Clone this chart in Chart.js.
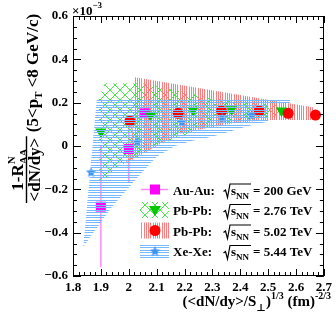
<!DOCTYPE html>
<html>
<head>
<meta charset="utf-8">
<script src="https://cdn.jsdelivr.net/npm/chart.js@4/dist/chart.umd.min.js"></script>
<style>
  html, body { margin: 0; padding: 0; background: #fff; }
  #wrap { position: relative; width: 336px; height: 325px; }
</style>
</head>
<body>
<div id="wrap"><canvas id="c" width="336" height="325"></canvas></div>
<script>
// --- data (y in units of 1e-3) ---
const auX = [1.90, 2.00, 2.058];
const auY = [-0.28, -0.014, 0.151];
const auErr = [0.28, 0.157, 0.03];

const pb276X = [1.90, 2.078, 2.231, 2.369, 2.548];
const pb276Y = [0.066, 0.143, 0.166, 0.169, 0.163];

const pb502X = [2.004, 2.177, 2.333, 2.468, 2.572, 2.67];
const pb502Y = [0.115, 0.151, 0.162, 0.162, 0.151, 0.143];

const xeX = [1.865, 2.03, 2.19, 2.335, 2.44];
const xeY = [-0.12, 0.022, 0.112, 0.13, 0.143];

// systematic bands (outline vertices)
const xeBandX = [1.837, 1.885, 2.578, 2.578, 2.50, 2.50, 2.452, 2.401, 2.348, 2.297, 2.273, 2.22, 2.166, 2.10, 2.046, 1.94, 1.879];
const xeBandY = [-0.465, 0.212, 0.212, 0.195, 0.19, 0.112, 0.10, 0.082, 0.061, 0.043, 0.036, 0.022, 0.0, -0.05, -0.125, -0.28, -0.39];

const pb502BandX = [2.022, 2.665, 2.665, 2.494, 2.375, 2.244, 2.18, 2.10, 1.99, 2.012];
const pb502BandY = [0.317, 0.178, 0.12, 0.12, 0.105, 0.074, 0.055, 0.0, -0.08, 0.05];

const pb276BandX = [1.895, 1.893, 1.915, 2.05, 2.30, 2.55, 2.55, 2.30, 2.10, 1.99];
const pb276BandY = [-0.17, 0.22, 0.29, 0.29, 0.22, 0.185, 0.14, 0.10, 0.0, -0.075];

const xTicks = [1.8, 1.9, 2.0, 2.1, 2.2, 2.3, 2.4, 2.5, 2.6, 2.7];
const yTicks = [-0.6, -0.4, -0.2, 0, 0.2, 0.4, 0.6];
const xMinorStep = 0.02;
const yMinorStep = 0.05;

const legendNames = ['Au-Au:', 'Pb-Pb:', 'Pb-Pb:', 'Xe-Xe:'];
const legendEnergies = ['= 200 GeV', '= 2.76 TeV', '= 5.02 TeV', '= 5.44 TeV'];

const FONT = '"Liberation Serif", "Times New Roman", "DejaVu Serif", serif';
const MAGENTA = '#ff00ff', GREEN = '#00c800', RED = '#ff0000', BLUE = '#3b93f0';

// --- hatch patterns ---
function makePattern(kind) {
  const c = document.createElement('canvas');
  const g = c.getContext('2d');
  if (kind === 'h') {
    c.width = 4; c.height = 5;
    g.fillStyle = 'rgb(120,185,255)';
    g.fillRect(0, 0, 4, 1); g.fillRect(0, 2, 4, 1);
  } else if (kind === 'v') {
    c.width = 9; c.height = 4;
    g.fillStyle = 'rgb(255,125,125)';
    [0, 2, 4, 6].forEach(x => g.fillRect(x, 0, 1, 4));
  } else {
    c.width = 10; c.height = 10;
    g.strokeStyle = 'rgb(70,230,70)'; g.lineWidth = 1;
    g.beginPath(); g.moveTo(0, 0); g.lineTo(10, 10); g.moveTo(10, 0); g.lineTo(0, 10); g.stroke();
  }
  return g.createPattern(c, 'repeat');
}
const blueHatch = makePattern('h');
const redHatch = makePattern('v');
const greenHatch = makePattern('x');

function starImage(size, color) {
  const c = document.createElement('canvas');
  c.width = size; c.height = size;
  const g = c.getContext('2d');
  const r1 = size / 2, r2 = size / 4.6, cx = size / 2, cy = size / 2 + 0.5;
  g.fillStyle = color;
  g.beginPath();
  for (let i = 0; i < 10; i++) {
    const r = i % 2 ? r2 : r1;
    const a = -Math.PI / 2 + i * Math.PI / 5;
    g.lineTo(cx + r * Math.cos(a), cy + r * Math.sin(a));
  }
  g.closePath(); g.fill();
  return c;
}
const star = starImage(11, BLUE);

const pts = (xs, ys) => xs.map((x, i) => ({ x, y: ys[i] }));
const fmt = v => {
  const r = Math.round(v * 100) / 100;
  if (r === 0) return '0';
  return (r < 0 ? '\u2212' : '') + String(Math.abs(r));
};

// text runs helper: [text, size, dy, advance]
function runs(ctx, x, y, parts) {
  for (const p of parts) {
    ctx.font = `bold ${p[1]}px ${FONT}`;
    ctx.fillText(p[0], x, y + (p[2] || 0));
    if (p[3] !== false) x += ctx.measureText(p[0]).width;
  }
  return x;
}
function runsWidth(ctx, parts) {
  let w = 0;
  for (const p of parts) {
    ctx.font = `bold ${p[1]}px ${FONT}`;
    if (p[3] !== false) w += ctx.measureText(p[0]).width;
  }
  return w;
}

const errBars = {
  id: 'errBars',
  beforeDatasetsDraw(chart) {
    const { ctx, scales: { x, y } } = chart;
    ctx.save();
    ctx.strokeStyle = '#ff88ff';
    ctx.lineWidth = 1.5;
    auX.forEach((v, i) => {
      const px = x.getPixelForValue(v);
      ctx.beginPath();
      ctx.moveTo(px, y.getPixelForValue(auY[i] + auErr[i]));
      ctx.lineTo(px, y.getPixelForValue(auY[i] - auErr[i]));
      ctx.stroke();
    });
    ctx.restore();
  }
};

const frame = {
  id: 'frame',
  afterDatasetsDraw(chart) {
    const { ctx, chartArea: a, scales: { x, y } } = chart;
    ctx.save();
    ctx.strokeStyle = '#000';
    ctx.lineWidth = 1;
    ctx.beginPath();
    for (let v = x.min; v <= x.max + 1e-9; v += xMinorStep) {
      const px = Math.round(x.getPixelForValue(v)) + 0.5;
      const major = xTicks.some(t => Math.abs(t - v) < 1e-6);
      const len = major ? 7 : 4;
      ctx.moveTo(px, a.bottom); ctx.lineTo(px, a.bottom - len);
      ctx.moveTo(px, a.top); ctx.lineTo(px, a.top + len);
    }
    for (let v = y.min; v <= y.max + 1e-9; v += yMinorStep) {
      const py = Math.round(y.getPixelForValue(v)) + 0.5;
      const major = yTicks.some(t => Math.abs(t - v) < 1e-6);
      const len = major ? 8 : 4;
      ctx.moveTo(a.left, py); ctx.lineTo(a.left + len, py);
      ctx.moveTo(a.right, py); ctx.lineTo(a.right - len, py);
    }
    ctx.stroke();
    ctx.strokeRect(Math.round(a.left) + 0.5, Math.round(a.top) + 0.5,
      Math.round(a.right - a.left) - 1, Math.round(a.bottom - a.top) - 1);
    ctx.restore();
  }
};

const annotations = {
  id: 'annotations',
  afterDraw(chart) {
    const { ctx } = chart;
    ctx.save();
    ctx.fillStyle = '#000';
    ctx.textBaseline = 'alphabetic';
    ctx.textAlign = 'left';

    // x10^-3
    runs(ctx, 72, 15, [['\u00d710', 13], ['\u22123', 9, -7]]);

    // x title
    const xt = [['(<dN/dy>/S', 15], ['\u22a5', 10, 5], [')', 15], ['1/3', 10, -7], [' (fm)', 15], ['-2/3', 10, -7]];
    runs(ctx, 331 - runsWidth(ctx, xt), 306, xt);

    // y title (rotated)
    ctx.save();
    ctx.translate(26.5, 203);
    ctx.rotate(-Math.PI / 2);
    const num = [['1-R', 17], ['N', 11, -8, false], ['AA', 11, 4]];
    const den = [['<dN/dy>', 17]];
    const nw = runsWidth(ctx, num), dw = runsWidth(ctx, den);
    const fw = Math.max(nw, dw) + 3;
    runs(ctx, (fw - nw) / 2, -4, num);
    runs(ctx, (fw - dw) / 2, 13, den);
    ctx.fillRect(0, -0.7, fw, 1.4);
    runs(ctx, fw + 4, 11.5, [['(5<p', 17], ['T', 11, 4], [' <8 GeV/c)', 17]]);
    ctx.restore();

    // legend
    const base = [194.5, 215, 235.5, 256];
    base.forEach((b, i) => {
      const cy = b - 5;
      const bx = 140, bw = 29, cx = 155;
      ctx.save();
      if (i === 0) {
        ctx.strokeStyle = '#ff88ff'; ctx.lineWidth = 1.5;
        ctx.beginPath(); ctx.moveTo(bx + 1, cy); ctx.lineTo(bx + bw - 1, cy); ctx.stroke();
        ctx.fillStyle = MAGENTA; ctx.fillRect(cx - 5, cy - 5, 10, 10);
      } else {
        ctx.fillStyle = [null, greenHatch, redHatch, blueHatch][i];
        ctx.fillRect(bx, cy - 8, bw, 16);
        if (i === 1) {
          ctx.fillStyle = GREEN;
          ctx.beginPath(); ctx.moveTo(cx - 6, cy - 4); ctx.lineTo(cx + 6, cy - 4); ctx.lineTo(cx, cy + 6); ctx.closePath(); ctx.fill();
        } else if (i === 2) {
          ctx.fillStyle = RED;
          ctx.beginPath(); ctx.arc(cx, cy, 5.5, 0, Math.PI * 2); ctx.fill();
        } else {
          ctx.drawImage(star, cx - 5.5, cy - 5.5);
        }
      }
      ctx.restore();
      ctx.fillStyle = '#000';
      runs(ctx, 173, b, [[legendNames[i], 13]]);
      // sqrt sign
      const x0 = 224;
      ctx.strokeStyle = '#000'; ctx.lineWidth = 1.2;
      ctx.beginPath();
      ctx.moveTo(x0 - 0.5, b - 3); ctx.lineTo(x0 + 1.5, b - 4.5); ctx.lineTo(x0 + 3.5, b + 3);
      ctx.lineTo(x0 + 6, b - 10.5); ctx.lineTo(x0 + 27, b - 10.5);
      ctx.stroke();
      runs(ctx, x0 + 7, b, [['s', 13], ['NN', 9, 4]]);
      runs(ctx, 253, b, [[legendEnergies[i], 13]]);
    });
    ctx.restore();
  }
};

const tickFont = { family: FONT, size: 13, weight: 'bold' };

new Chart(document.getElementById('c'), {
  type: 'scatter',
  data: {
    datasets: [
      { label: 'Xe-Xe band', data: pts(xeBandX, xeBandY), showLine: true, fill: 'shape',
        backgroundColor: blueHatch, borderWidth: 0, pointRadius: 0, order: 1 },
      { label: 'Xe-Xe', data: pts(xeX, xeY), pointStyle: star, order: 2 },
      { label: 'Pb-Pb 5.02', data: pts(pb502X, pb502Y), pointStyle: 'circle', pointRadius: 5.5,
        backgroundColor: RED, borderColor: RED, borderWidth: 0, order: 3 },
      { label: 'Pb-Pb 2.76', data: pts(pb276X, pb276Y), pointStyle: 'triangle', rotation: 180, pointRadius: 6.5,
        backgroundColor: GREEN, borderColor: GREEN, borderWidth: 0, order: 4 },
      { label: 'Au-Au', data: pts(auX, auY), pointStyle: 'rect', pointRadius: 7,
        backgroundColor: MAGENTA, borderColor: MAGENTA, borderWidth: 0, order: 5 },
      { label: 'Pb-Pb 5.02 band', data: pts(pb502BandX, pb502BandY), showLine: true, fill: 'shape',
        backgroundColor: redHatch, borderWidth: 0, pointRadius: 0, order: 6 },
      { label: 'Pb-Pb 2.76 band', data: pts(pb276BandX, pb276BandY), showLine: true, fill: 'shape',
        backgroundColor: greenHatch, borderWidth: 0, pointRadius: 0, order: 7 }
    ]
  },
  options: {
    responsive: false,
    animation: false,
    devicePixelRatio: 1,
    layout: { padding: { left: 0, right: 12, top: 16, bottom: 0 } },
    plugins: { legend: { display: false }, tooltip: { enabled: false } },
    scales: {
      x: {
        type: 'linear', min: 1.8, max: 2.7,
        grid: { display: false, drawTicks: false }, border: { display: false },
        ticks: { stepSize: 0.1, autoSkip: false, maxRotation: 0, padding: 4, color: '#000', font: tickFont, callback: fmt },
        afterFit: s => { s.height = 49; }
      },
      y: {
        type: 'linear', min: -0.6, max: 0.6,
        grid: { display: false, drawTicks: false }, border: { display: false },
        ticks: { stepSize: 0.2, padding: 5, color: '#000', font: tickFont, callback: fmt },
        afterFit: s => { s.width = 73; }
      }
    }
  },
  plugins: [errBars, frame, annotations]
});
</script>
</body>
</html>
